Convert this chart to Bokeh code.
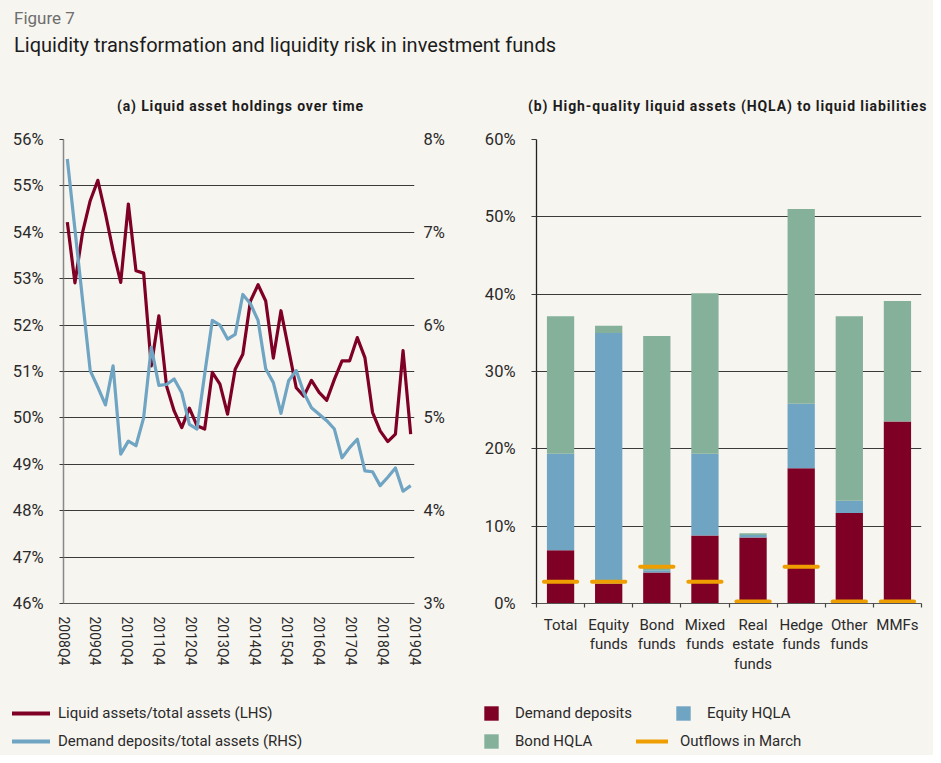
from bokeh.plotting import figure
from bokeh.models import (Range1d, LinearAxis, FixedTicker, Legend, LegendItem, Div,
                          ColumnDataSource)
from bokeh.layouts import column, row
from bokeh.embed import file_html
from bokeh.resources import INLINE

# ---------------- data ----------------
year_labels = ["2008Q4", "2009Q4", "2010Q4", "2011Q4", "2012Q4", "2013Q4",
               "2014Q4", "2015Q4", "2016Q4", "2017Q4", "2018Q4", "2019Q4"]

liquid_assets_lhs = [54.22, 52.91, 54.0, 54.68, 55.12, 54.4, 53.6, 52.92, 54.61, 53.17,
                     53.12, 51.12, 52.2, 50.69, 50.15, 49.79, 50.21, 49.83, 49.76, 50.98,
                     50.73, 50.08, 51.05, 51.37, 52.52, 52.87, 52.52, 51.29, 52.31, 51.48,
                     50.65, 50.47, 50.81, 50.55, 50.38, 50.83, 51.23, 51.23, 51.73, 51.3,
                     50.12, 49.72, 49.49, 49.65, 51.45, 49.65]

demand_deposits_rhs = [7.79, 7.03, 6.27, 5.51, 5.33, 5.14, 5.56, 4.61, 4.75, 4.70,
                       5.0, 5.76, 5.35, 5.36, 5.42, 5.27, 4.93, 4.88, 5.47, 6.05,
                       6.0, 5.85, 5.9, 6.33, 6.23, 6.05, 5.53, 5.38, 5.05, 5.4,
                       5.51, 5.27, 5.11, 5.04, 4.97, 4.88, 4.57, 4.68, 4.77, 4.43,
                       4.42, 4.27, 4.36, 4.46, 4.21, 4.27]

fund_labels = ["Total", "Equity\nfunds", "Bond\nfunds", "Mixed\nfunds",
               "Real\nestate\nfunds", "Hedge\nfunds", "Other\nfunds", "MMFs"]
demand_deposits = [6.87, 2.6, 4.0, 8.8, 8.55, 17.5, 11.7, 23.54]
equity_hqla = [12.48, 32.38, 0.3, 10.55, 0.3, 8.33, 1.6, 0.0]
bond_hqla = [17.79, 0.95, 30.3, 20.78, 0.25, 25.17, 23.84, 15.59]
outflows_march = [2.8, 2.8, 4.75, 2.8, 0.26, 4.75, 0.26, 0.26]

lhs_ticks = list(range(46, 57))
rhs_ticks = list(range(3, 9))
bar_ticks = list(range(0, 61, 10))

# ---------------- style ----------------
BG = "#F7F5F0"
RED = "#7F0025"
BLUE = "#6FA4C3"
GREEN = "#85B09A"
ORANGE = "#EE9E00"
FONT = "Roboto"
TXT = "#2a2a2a"
GRID = "#3a3a3a"
BGSTYLE = {"background-color": BG}

# ---------------- left panel ----------------
n = len(liquid_assets_lhs)
idx = list(range(n))

left = figure(output_backend="svg", toolbar_location=None,
              frame_width=351, frame_height=464,
              min_border_left=63, min_border_right=56,
              min_border_top=21, min_border_bottom=80,
              x_range=Range1d(-0.5, n - 0.5), y_range=Range1d(46, 56),
              background_fill_color=BG, border_fill_color=BG,
              outline_line_color=None, styles=BGSTYLE)
left.extra_y_ranges = {"rhs": Range1d(3, 8)}

r_red = left.line(idx, liquid_assets_lhs, line_color=RED, line_width=3.2,
                  line_join="round")
r_blue = left.line(idx, demand_deposits_rhs, y_range_name="rhs", line_color=BLUE,
                   line_width=3.2, line_join="round")

step = n / (len(year_labels) - 1)
xt = [-0.5 + i * step for i in range(len(year_labels))]
xa = left.xaxis[0]
xa.ticker = FixedTicker(ticks=xt, minor_ticks=[])
xa.major_label_overrides = {t: lab for t, lab in zip(xt, year_labels)}
xa.major_label_orientation = "vertical"
xa.major_tick_line_color = None
xa.major_tick_out = 0
xa.major_tick_in = 0
xa.minor_tick_line_color = None
xa.major_label_standoff = 13
xa.major_label_text_font = FONT
xa.major_label_text_font_size = "14px"
xa.major_label_text_color = TXT
xa.axis_line_color = "#555555"
xa.axis_line_width = 1.2

ya = left.yaxis[0]
ya.ticker = FixedTicker(ticks=lhs_ticks, minor_ticks=[])
ya.major_label_overrides = {t: f"{t}%" for t in lhs_ticks}
ya.major_tick_out = 4
ya.major_tick_in = 0
ya.major_tick_line_color = GRID
ya.minor_tick_line_color = None
ya.axis_line_color = "#888888"
ya.axis_line_width = 1.5
ya.major_label_standoff = 16
ya.major_label_text_font = FONT
ya.major_label_text_font_size = "16.5px"
ya.major_label_text_color = TXT

ra = LinearAxis(y_range_name="rhs", ticker=FixedTicker(ticks=rhs_ticks, minor_ticks=[]))
ra.major_label_overrides = {t: f"{t}%" for t in rhs_ticks}
ra.axis_line_color = None
ra.major_tick_line_color = None
ra.major_tick_out = 0
ra.minor_tick_line_color = None
ra.major_label_standoff = 9
ra.major_label_text_font = FONT
ra.major_label_text_font_size = "16.5px"
ra.major_label_text_color = TXT
left.add_layout(ra, "right")

left.xgrid.grid_line_color = None
left.ygrid.ticker = FixedTicker(ticks=lhs_ticks)
left.ygrid.grid_line_color = GRID
left.ygrid.grid_line_width = 1

# ---------------- right panel ----------------
m = len(fund_labels)
src = ColumnDataSource(dict(x=list(range(m)), demand=demand_deposits,
                            equity=equity_hqla, bond=bond_hqla))

right = figure(output_backend="svg", toolbar_location=None,
               frame_width=385, frame_height=464,
               min_border_left=66, min_border_right=12,
               min_border_top=21, min_border_bottom=80,
               x_range=Range1d(-0.5, m - 0.5), y_range=Range1d(0, 60),
               background_fill_color=BG, border_fill_color=BG,
               outline_line_color=None, styles=BGSTYLE)

bars = right.vbar_stack(["demand", "equity", "bond"], x="x", width=0.567,
                        color=[RED, BLUE, GREEN], line_color=None, source=src)

ox0 = [i - 0.345 for i in range(m)]
ox1 = [i + 0.345 for i in range(m)]
r_out = right.segment(x0=ox0, x1=ox1, y0=outflows_march, y1=outflows_march,
                      line_color=ORANGE, line_width=4, line_cap="round")

bx = right.xaxis[0]
bx.ticker = FixedTicker(ticks=list(range(m)), minor_ticks=[i - 0.5 for i in range(m + 1)])
bx.major_label_overrides = {i: lab for i, lab in enumerate(fund_labels)}
bx.major_tick_line_color = None
bx.major_tick_out = 0
bx.major_tick_in = 0
bx.minor_tick_out = 4
bx.minor_tick_in = 0
bx.minor_tick_line_color = "#444444"
bx.minor_tick_line_width = 1.2
bx.axis_line_color = "#555555"
bx.axis_line_width = 1.2
bx.major_label_standoff = 8
bx.major_label_text_font = FONT
bx.major_label_text_font_size = "15px"
bx.major_label_text_color = TXT
bx.major_label_text_line_height = 1.1

by = right.yaxis[0]
by.ticker = FixedTicker(ticks=bar_ticks, minor_ticks=[])
by.major_label_overrides = {t: f"{t}%" for t in bar_ticks}
by.major_tick_out = 5
by.major_tick_in = 0
by.major_tick_line_color = GRID
by.minor_tick_line_color = None
by.axis_line_color = "#222222"
by.axis_line_width = 1.3
by.major_label_standoff = 16
by.major_label_text_font = FONT
by.major_label_text_font_size = "16.5px"
by.major_label_text_color = TXT

right.xgrid.grid_line_color = None
right.ygrid.ticker = FixedTicker(ticks=bar_ticks)
right.ygrid.grid_line_color = GRID
right.ygrid.grid_line_width = 1

# ---------------- legend strip ----------------
# The series are re-drawn here only to feed the legend; the view ranges keep
# them outside the visible frame, so only the legend keys show.
leg = figure(output_backend="svg", toolbar_location=None, width=933, height=72,
             x_range=Range1d(1000, 1001), y_range=Range1d(1000, 1001),
             x_axis_type=None, y_axis_type=None, min_border=0,
             background_fill_color=BG, border_fill_color=BG, outline_line_color=None,
             styles=BGSTYLE)
leg.xgrid.grid_line_color = None
leg.ygrid.grid_line_color = None
k_red = leg.line(idx, liquid_assets_lhs, line_color=RED, line_width=4, line_cap="round")
k_blue = leg.line(idx, demand_deposits_rhs, line_color=BLUE, line_width=4, line_cap="round")
k_bars = leg.vbar_stack(["demand", "equity", "bond"], x="x", width=0.567,
                        color=[RED, BLUE, GREEN], line_color=None, source=src)
k_out = leg.segment(x0=ox0, x1=ox1, y0=outflows_march, y1=outflows_march,
                    line_color=ORANGE, line_width=4, line_cap="round")

common = dict(padding=0, margin=0, border_line_color=None, background_fill_alpha=0,
              label_text_font=FONT, label_text_font_size="15px", label_text_color=TXT)
leg_l = Legend(items=[LegendItem(label="Liquid assets/total assets (LHS)", renderers=[k_red]),
                      LegendItem(label="Demand deposits/total assets (RHS)", renderers=[k_blue])],
               location=(12, 4), glyph_width=38, glyph_height=20, label_height=20,
               spacing=8, label_standoff=8, **common)
leg_r1 = Legend(items=[LegendItem(label="Demand deposits", renderers=[k_bars[0]]),
                       LegendItem(label="Bond HQLA", renderers=[k_bars[2]])],
                location=(482, 5), glyph_width=18, glyph_height=18, label_height=18,
                spacing=10, label_standoff=15, **common)
leg_r2 = Legend(items=[LegendItem(label="Equity HQLA", renderers=[k_bars[1]])],
                location=(674, 33), glyph_width=18, glyph_height=18, label_height=18,
                spacing=10, label_standoff=15, **common)
leg_r3 = Legend(items=[LegendItem(label="Outflows in March", renderers=[k_out])],
                location=(636, 5), glyph_width=32, glyph_height=18, label_height=18,
                spacing=10, label_standoff=12, **common)
for lg in (leg_l, leg_r1, leg_r2, leg_r3):
    leg.add_layout(lg, "center")

# ---------------- header ----------------
header_html = f"""
<div style="position:relative;width:933px;height:118px;font-family:{FONT};">
  <div style="position:absolute;left:14px;top:10px;font-size:17px;line-height:17px;color:#6e6e6e;white-space:nowrap;">Figure 7</div>
  <div style="position:absolute;left:14px;top:35px;font-size:20px;line-height:20px;color:#1c1c1c;white-space:nowrap;">Liquidity transformation and liquidity risk in investment funds</div>
  <div style="position:absolute;left:117px;top:99px;font-size:14px;line-height:14px;letter-spacing:0.85px;font-weight:bold;color:#1c1c1c;white-space:nowrap;">(a) Liquid asset holdings over time</div>
  <div style="position:absolute;left:528px;top:99px;font-size:14px;line-height:14px;letter-spacing:0.9px;font-weight:bold;color:#1c1c1c;white-space:nowrap;">(b) High-quality liquid assets (HQLA) to liquid liabilities</div>
</div>
"""
header = Div(text=header_html, width=933, height=118, margin=(0, 0, 0, 0), styles=BGSTYLE)

layout = column(header, row(left, right, spacing=0, styles=BGSTYLE), leg,
                spacing=0, styles=BGSTYLE)

html = file_html(layout, INLINE, title="Figure 7")
body_style = (f"background-color:{BG};"
              f"background-image:linear-gradient(to right, {BG} 0px, {BG} 937px, "
              f"#3a3a3a 937px, #3a3a3a 939px, {BG} 939px);")
html = html.replace("<body>", f'<body style="{body_style}">', 1)
open("out.html", "w").write(html)
